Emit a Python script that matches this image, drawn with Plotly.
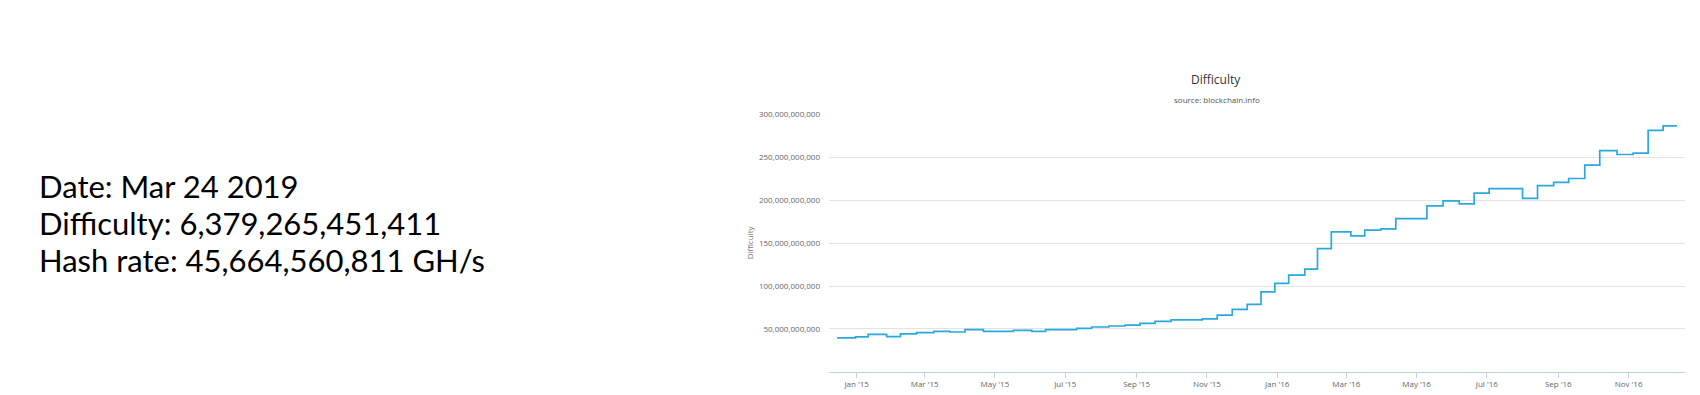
import plotly.graph_objects as go

# ---- data (difficulty steps) ----
dates = [
    "2014-12-15", "2014-12-31", "2015-01-11", "2015-01-27", "2015-02-08", "2015-02-22",
    "2015-03-09", "2015-03-23", "2015-04-05", "2015-04-21", "2015-05-17", "2015-06-02",
    "2015-06-14", "2015-07-11", "2015-07-24", "2015-08-08", "2015-08-22", "2015-09-04",
    "2015-09-17", "2015-10-01", "2015-10-28", "2015-11-10", "2015-11-23", "2015-12-06",
    "2015-12-18", "2015-12-30", "2016-01-11", "2016-01-25", "2016-02-05", "2016-02-17",
    "2016-03-05", "2016-03-17", "2016-03-31", "2016-04-13", "2016-05-10", "2016-05-24",
    "2016-06-07", "2016-06-20", "2016-07-03", "2016-08-01", "2016-08-14", "2016-08-28",
    "2016-09-10", "2016-09-24", "2016-10-07", "2016-10-22", "2016-11-05", "2016-11-18",
    "2016-12-01", "2016-12-13",
]
difficulty_billions = [
    39.6, 40.8, 43.8, 41.1, 44.2, 45.7,
    47.2, 46.5, 49.2, 47.2, 48.4, 47.2,
    49.2, 50.7, 52.3, 53.5, 54.6, 56.5,
    58.8, 60.7, 61.9, 66.1, 72.9, 78.8,
    93.3, 103.3, 112.9, 119.8, 143.7, 163.2,
    158.6, 165.2, 166.7, 178.6, 193.5, 199.3,
    195.9, 208.5, 213.6, 202.4, 217.1, 220.9,
    225.5, 241.2, 258.1, 253.5, 255.1, 281.6,
    286.9, 286.9,
]
difficulty = [v * 1e9 for v in difficulty_billions]

y_tick_values = [50e9, 100e9, 150e9, 200e9, 250e9, 300e9]
x_tick_values = ["2015-01-01", "2015-03-01", "2015-05-01", "2015-07-01", "2015-09-01",
                 "2015-11-01", "2016-01-01", "2016-03-01", "2016-05-01", "2016-07-01",
                 "2016-09-01", "2016-11-01"]
x_tick_labels = ["Jan '15", "Mar '15", "May '15", "Jul '15", "Sep '15", "Nov '15",
                 "Jan '16", "Mar '16", "May '16", "Jul '16", "Sep '16", "Nov '16"]

info_lines = [
    "Date: Mar 24 2019",
    "Difficulty: 6,379,265,451,411",
    "Hash rate: 45,664,560,811 GH/s",
]

W, H = 1700, 395
def px(x):
    return x / W
def py(y):
    return 1 - y / H

fig = go.Figure()
fig.add_trace(go.Scatter(
    x=dates, y=difficulty, mode="lines", line_shape="hv",
    line=dict(color="#2ba8de", width=1.7), hoverinfo="skip", showlegend=False,
))

chart_font = "Open Sans, Liberation Sans, sans-serif"

fig.update_layout(
    width=W, height=H,
    margin=dict(l=0, r=0, t=0, b=0),
    paper_bgcolor="white", plot_bgcolor="white",
    xaxis=dict(
        type="date", domain=[px(829), px(1685)],
        range=["2014-12-08", "2016-12-20"],
        tickvals=x_tick_values, ticktext=x_tick_labels,
        ticks="outside", ticklen=5, tickcolor="#c0d0e0", tickwidth=1,
        showline=True, linecolor="#c0d0e0", linewidth=1,
        showgrid=False, zeroline=False,
        tickfont=dict(family=chart_font, size=8, color="#666666"),
    ),
    yaxis=dict(
        domain=[py(371.5), py(110.3)],
        range=[0, 300e9],
        tickvals=y_tick_values, tickformat=",d",
        ticks="", showline=False, zeroline=False,
        showgrid=True, gridcolor="#e3e3e3", gridwidth=1,
        ticklabelstandoff=8,
        tickfont=dict(family=chart_font, size=8, color="#666666"),
    ),
)

annotations = []
# left info text
for text, yc in zip(info_lines, [182.5, 220, 257.5]):
    annotations.append(dict(
        text=text, x=px(37), y=py(yc), xref="paper", yref="paper",
        xanchor="left", yanchor="middle", showarrow=False,
        font=dict(family="Lato, Liberation Sans, sans-serif", size=31, color="black"),
    ))
# chart title, subtitle, y-axis title
annotations.append(dict(text="Difficulty", x=px(1216), y=py(75), xref="paper", yref="paper",
                        xanchor="center", yanchor="middle", showarrow=False,
                        font=dict(family=chart_font, size=12, color="#333333")))
annotations.append(dict(text="source: blockchain.info", x=px(1217), y=py(95), xref="paper", yref="paper",
                        xanchor="center", yanchor="middle", showarrow=False,
                        font=dict(family=chart_font, size=8, color="#555555")))
annotations.append(dict(text="Difficulty", x=px(749), y=py(240), xref="paper", yref="paper",
                        xanchor="center", yanchor="middle", showarrow=False, textangle=-90,
                        font=dict(family=chart_font, size=8, color="#777777")))
fig.update_layout(annotations=annotations)

fig.write_html("out.html", config={"displayModeBar": False},
               post_script="document.body.style.margin='0';document.body.style.overflow='hidden';")
